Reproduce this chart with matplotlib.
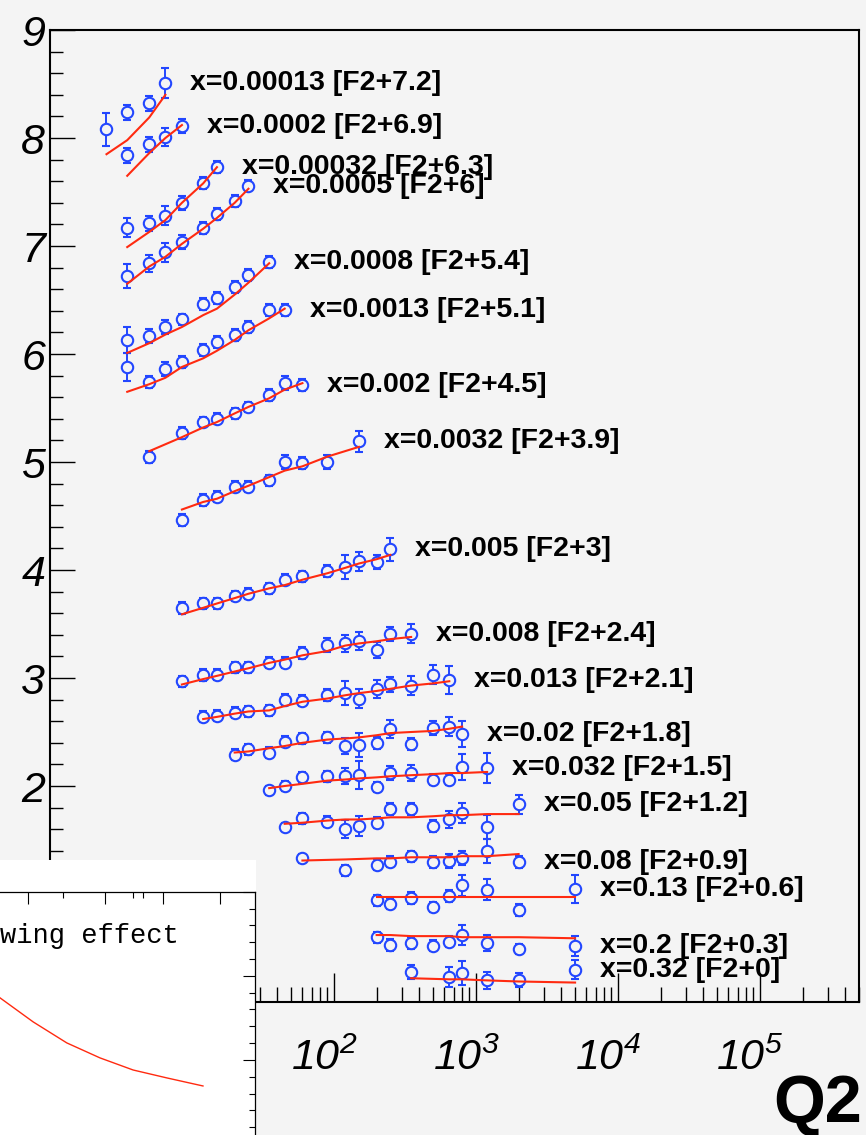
import matplotlib
matplotlib.use('Agg')
import matplotlib.pyplot as plt
from matplotlib.ticker import MultipleLocator, LogLocator, NullFormatter, FixedLocator
from matplotlib.patches import Rectangle
import matplotlib.transforms as mtrans
import numpy as np

plt.rcParams['font.family'] = ['Liberation Sans', 'DejaVu Sans']
plt.rcParams['mathtext.fontset'] = 'custom'
plt.rcParams['mathtext.rm'] = 'Liberation Sans:italic'
plt.rcParams['mathtext.it'] = 'Liberation Sans:italic'

# ---------------- data ----------------
x_bins = ['0.00013', '0.0002', '0.00032', '0.0005', '0.0008', '0.0013', '0.002', '0.0032',
          '0.005', '0.008', '0.013', '0.02', '0.032', '0.05', '0.08', '0.13', '0.2', '0.32']
offsets = [7.2, 6.9, 6.3, 6.0, 5.4, 5.1, 4.5, 3.9, 3.0, 2.4, 2.1, 1.8, 1.5, 1.2, 0.9, 0.6, 0.3, 0.0]

q2_s1 = [2.5, 3.5, 5, 6.5]
f2_s1 = [0.88, 1.04, 1.12, 1.31]
err_s1 = [0.15, 0.07, 0.07, 0.14]
fit_s1 = [0.65, 0.78, 0.99, 1.20]

q2_s2 = [3.5, 5, 6.5, 8.5]
f2_s2 = [0.94, 1.04, 1.11, 1.21]
err_s2 = [0.07, 0.07, 0.08, 0.065]
fit_s2 = [0.75, 0.96, 1.10, 1.22]

q2_s3 = [3.5, 5, 6.5, 8.5, 12, 15]
f2_s3 = [0.87, 0.91, 0.98, 1.10, 1.28, 1.43]
err_s3 = [0.09, 0.07, 0.09, 0.065, 0.055, 0.055]
fit_s3 = [0.69, 0.83, 0.94, 1.10, 1.28, 1.43]

q2_s4 = [3.5, 5, 6.5, 8.5, 12, 15, 20, 25]
f2_s4 = [0.72, 0.84, 0.94, 1.04, 1.17, 1.30, 1.42, 1.56]
err_s4 = [0.11, 0.08, 0.09, 0.065, 0.055, 0.055, 0.055, 0.055]
fit_s4 = [0.65, 0.81, 0.90, 1.02, 1.16, 1.26, 1.40, 1.53]

q2_s5 = [3.5, 5, 6.5, 8.5, 12, 15, 20, 25, 35]
f2_s5 = [0.73, 0.77, 0.85, 0.92, 1.06, 1.12, 1.22, 1.33, 1.45]
err_s5 = [0.12, 0.065, 0.065, 0.055, 0.055, 0.055, 0.055, 0.055, 0.055]
fit_s5 = [0.61, 0.70, 0.78, 0.85, 0.96, 1.02, 1.15, 1.26, 1.44]

q2_s6 = [3.5, 5, 6.5, 8.5, 12, 15, 20, 25, 35, 45]
f2_s6 = [0.78, 0.64, 0.76, 0.83, 0.94, 1.01, 1.08, 1.15, 1.31, 1.31]
err_s6 = [0.13, 0.055, 0.065, 0.055, 0.055, 0.055, 0.055, 0.055, 0.055, 0.055]
fit_s6 = [0.55, 0.62, 0.68, 0.78, 0.86, 0.93, 1.03, 1.12, 1.23, 1.32]

q2_s7 = [5, 8.5, 12, 15, 20, 25, 35, 45, 60]
f2_s7 = [0.55, 0.77, 0.87, 0.90, 0.95, 1.01, 1.12, 1.23, 1.21]
err_s7 = [0.055, 0.055, 0.05, 0.05, 0.05, 0.05, 0.055, 0.065, 0.055]
fit_s7 = [0.60, 0.73, 0.82, 0.87, 0.95, 1.01, 1.09, 1.17, 1.23]

q2_s8 = [8.5, 12, 15, 20, 25, 35, 45, 60, 90, 150]
f2_s8 = [0.56, 0.75, 0.78, 0.87, 0.87, 0.93, 1.10, 1.09, 1.10, 1.29]
err_s8 = [0.055, 0.055, 0.05, 0.05, 0.05, 0.05, 0.065, 0.055, 0.065, 0.10]
fit_s8 = [0.66, 0.73, 0.76, 0.83, 0.88, 0.96, 1.02, 1.06, 1.15, 1.24]

q2_s9 = [8.5, 12, 15, 20, 25, 35, 45, 60, 90, 120, 150, 200, 250]
f2_s9 = [0.65, 0.69, 0.69, 0.76, 0.78, 0.83, 0.91, 0.94, 0.99, 1.03, 1.08, 1.07, 1.19]
err_s9 = [0.055, 0.055, 0.05, 0.05, 0.05, 0.05, 0.05, 0.05, 0.055, 0.11, 0.085, 0.065, 0.11]
fit_s9 = [0.59, 0.65, 0.69, 0.74, 0.78, 0.83, 0.86, 0.91, 0.97, 1.02, 1.06, 1.10, 1.14]

q2_s10 = [8.5, 12, 15, 20, 25, 35, 45, 60, 90, 120, 150, 200, 250, 350]
f2_s10 = [0.57, 0.63, 0.63, 0.70, 0.70, 0.74, 0.74, 0.83, 0.91, 0.92, 0.94, 0.86, 1.01, 1.01]
err_s10 = [0.05, 0.055, 0.05, 0.05, 0.05, 0.05, 0.05, 0.055, 0.065, 0.075, 0.085, 0.075, 0.065, 0.09]
fit_s10 = [0.54, 0.59, 0.62, 0.66, 0.69, 0.74, 0.77, 0.81, 0.85, 0.90, 0.92, 0.94, 0.96, 0.98]

q2_s11 = [12, 15, 20, 25, 35, 45, 60, 90, 120, 150, 200, 250, 350, 500, 650]
f2_s11 = [0.54, 0.55, 0.58, 0.59, 0.60, 0.70, 0.69, 0.74, 0.76, 0.71, 0.80, 0.84, 0.83, 0.93, 0.88]
err_s11 = [0.05, 0.05, 0.05, 0.05, 0.05, 0.05, 0.05, 0.055, 0.11, 0.09, 0.085, 0.065, 0.085, 0.09, 0.13]
fit_s11 = [0.52, 0.54, 0.57, 0.59, 0.60, 0.64, 0.68, 0.71, 0.74, 0.76, 0.78, 0.80, 0.83, 0.85, 0.87]

q2_s12 = [20, 25, 35, 45, 60, 90, 120, 150, 200, 250, 350, 500, 650, 800]
f2_s12 = [0.49, 0.54, 0.51, 0.61, 0.64, 0.65, 0.57, 0.58, 0.60, 0.73, 0.59, 0.74, 0.75, 0.68]
err_s12 = [0.05, 0.05, 0.05, 0.05, 0.05, 0.05, 0.075, 0.11, 0.055, 0.085, 0.055, 0.065, 0.09, 0.12]
fit_s12 = [0.51, 0.52, 0.55, 0.57, 0.60, 0.63, 0.64, 0.65, 0.67, 0.69, 0.70, 0.71, 0.73, 0.75]

q2_s13 = [35, 45, 60, 90, 120, 150, 200, 250, 350, 500, 650, 800, 1200]
f2_s13 = [0.46, 0.50, 0.58, 0.59, 0.59, 0.60, 0.49, 0.62, 0.62, 0.56, 0.56, 0.68, 0.67]
err_s13 = [0.04, 0.05, 0.05, 0.05, 0.075, 0.13, 0.05, 0.065, 0.075, 0.055, 0.055, 0.12, 0.14]
fit_s13 = [0.48, 0.50, 0.52, 0.55, 0.56, 0.57, 0.58, 0.59, 0.60, 0.61, 0.62, 0.62, 0.63]

q2_s14 = [45, 60, 90, 120, 150, 200, 250, 350, 500, 650, 800, 1200, 2000]
f2_s14 = [0.42, 0.50, 0.47, 0.40, 0.43, 0.46, 0.59, 0.59, 0.43, 0.49, 0.55, 0.42, 0.63]
err_s14 = [0.04, 0.05, 0.05, 0.085, 0.09, 0.05, 0.055, 0.055, 0.055, 0.075, 0.09, 0.11, 0.085]
fit_s14 = [0.45, 0.46, 0.48, 0.49, 0.49, 0.50, 0.51, 0.51, 0.52, 0.53, 0.53, 0.54, 0.54]

q2_s15 = [60, 120, 200, 250, 350, 500, 650, 800, 1200, 2000]
f2_s15 = [0.43, 0.32, 0.37, 0.40, 0.45, 0.40, 0.41, 0.43, 0.50, 0.40]
err_s15 = [0.04, 0.05, 0.05, 0.05, 0.05, 0.055, 0.065, 0.065, 0.11, 0.055]
fit_s15 = [0.41, 0.42, 0.43, 0.43, 0.44, 0.44, 0.44, 0.45, 0.45, 0.47]

q2_s16 = [200, 250, 350, 500, 650, 800, 1200, 2000, 5000]
f2_s16 = [0.34, 0.31, 0.36, 0.28, 0.38, 0.48, 0.44, 0.25, 0.45]
err_s16 = [0.05, 0.05, 0.055, 0.05, 0.055, 0.10, 0.10, 0.055, 0.13]
fit_s16 = [0.37, 0.37, 0.37, 0.37, 0.37, 0.37, 0.37, 0.37, 0.37]

q2_s17 = [200, 250, 350, 500, 650, 800, 1200, 2000, 5000]
f2_s17 = [0.30, 0.23, 0.25, 0.22, 0.26, 0.32, 0.25, 0.19, 0.22]
err_s17 = [0.05, 0.055, 0.055, 0.05, 0.05, 0.09, 0.075, 0.05, 0.09]
fit_s17 = [0.32, 0.32, 0.31, 0.31, 0.31, 0.30, 0.30, 0.30, 0.29]

q2_s18 = [350, 650, 800, 1200, 2000, 5000]
f2_s18 = [0.28, 0.23, 0.27, 0.20, 0.20, 0.30]
err_s18 = [0.065, 0.09, 0.11, 0.075, 0.065, 0.09]
fit_s18 = [0.22, 0.21, 0.21, 0.20, 0.19, 0.18]

series = [
    (q2_s1, f2_s1, err_s1, fit_s1), (q2_s2, f2_s2, err_s2, fit_s2),
    (q2_s3, f2_s3, err_s3, fit_s3), (q2_s4, f2_s4, err_s4, fit_s4),
    (q2_s5, f2_s5, err_s5, fit_s5), (q2_s6, f2_s6, err_s6, fit_s6),
    (q2_s7, f2_s7, err_s7, fit_s7), (q2_s8, f2_s8, err_s8, fit_s8),
    (q2_s9, f2_s9, err_s9, fit_s9), (q2_s10, f2_s10, err_s10, fit_s10),
    (q2_s11, f2_s11, err_s11, fit_s11), (q2_s12, f2_s12, err_s12, fit_s12),
    (q2_s13, f2_s13, err_s13, fit_s13), (q2_s14, f2_s14, err_s14, fit_s14),
    (q2_s15, f2_s15, err_s15, fit_s15), (q2_s16, f2_s16, err_s16, fit_s16),
    (q2_s17, f2_s17, err_s17, fit_s17), (q2_s18, f2_s18, err_s18, fit_s18),
]

y_ticks = [0, 1, 2, 3, 4, 5, 6, 7, 8, 9]
x_ticks = [1, 10, 100, 1000, 10000, 100000]
x_tick_labels = [r'$1$', r'$10$', r'$10^{2}$', r'$10^{3}$', r'$10^{4}$', r'$10^{5}$']

# inset ("... wing effect") curve
inset_x = [0.500, 0.565, 0.631, 0.696, 0.761, 0.827, 0.898]
inset_y = [0.869, 0.726, 0.601, 0.512, 0.440, 0.393, 0.345]

# ---------------- figure ----------------
W, H = 866, 1135
BG = '#f4f4f4'
BLUE = '#2246ff'
RED = '#ff2a10'

fig = plt.figure(figsize=(W / 100, H / 100), dpi=100, facecolor=BG)
ax = fig.add_axes([50 / W, 1 - 1002 / H, 809 / W, 972 / H])
ax.set_facecolor(BG)
ax.set_xscale('log')
ax.set_xlim(1, 5e5)
ax.set_ylim(0, 9)

for (q2, f2, err, fit), off, xb in zip(series, offsets, x_bins):
    q2 = np.asarray(q2, float)
    yv = np.asarray(f2) + off
    ax.errorbar(q2, yv, yerr=err, fmt='o', ms=8.2, mfc=BG, mec=BLUE, mew=1.5,
                ecolor=BLUE, elinewidth=1.4, capsize=2.9, capthick=1.4, zorder=3)
    ax.plot(q2, np.asarray(fit) + off, color=RED, lw=1.5, zorder=4)
    ax.text(q2[-1] * 1.5, yv[-1], f'x={xb} [F2+{off:g}]', fontsize=20.5,
            fontweight='bold', ha='left', va='center', color='black', zorder=5)

# axes styling
for s in ax.spines.values():
    s.set_linewidth(1.5)
ax.set_yticks(y_ticks)
ax.set_yticklabels([str(v) for v in y_ticks], fontsize=31, fontstyle='italic')
ax.yaxis.set_minor_locator(MultipleLocator(0.2))
ax.set_xticks(x_ticks)
ax.set_xticklabels(x_tick_labels, fontsize=31)
ax.xaxis.set_minor_locator(LogLocator(base=10, subs=np.arange(2, 10), numticks=20))
ax.xaxis.set_minor_formatter(NullFormatter())
ax.tick_params(which='both', direction='in', top=False, right=False, color='black')
ax.tick_params(axis='y', which='major', length=18, width=1.0, pad=3.5)
ax.tick_params(axis='y', which='minor', length=9.5, width=1.0)
ax.tick_params(axis='x', which='major', length=21, width=1.0, pad=26)
ax.tick_params(axis='x', which='minor', length=11, width=1.0)
shift = mtrans.ScaledTranslation(-10 / 100, 0, fig.dpi_scale_trans)
for t in ax.xaxis.get_major_ticks():
    t.label1.set_transform(t.label1.get_transform() + shift)

# axis title
fig.text(862 / W, 1 - 1122 / H, 'Q2', ha='right', va='baseline', fontsize=48,
         fontweight='bold', zorder=12)

# ---------------- inset (partially visible) ----------------
fig.add_artist(Rectangle((0, 0), 256 / W, 275 / H, transform=fig.transFigure,
                         facecolor='white', edgecolor='none', zorder=10))
iax = fig.add_axes([-255 / W, 1 - 1144 / H, 510 / W, (1144 - 891.7) / H], zorder=11)
iax.set_facecolor('white')
iax.set_xlim(0, 1)
iax.set_ylim(0, 1.5)
for k in ('left', 'bottom'):
    iax.spines[k].set_visible(False)
for k in ('top', 'right'):
    iax.spines[k].set_linewidth(0.9)
iax.xaxis.tick_top()
iax.yaxis.tick_right()
iax.xaxis.set_major_locator(FixedLocator([0.5555, 0.7059, 0.82, 0.931]))
iax.xaxis.set_minor_locator(FixedLocator([0.624, 0.7614, 0.781]))
iax.yaxis.set_major_locator(MultipleLocator(0.5))
iax.yaxis.set_minor_locator(MultipleLocator(0.1))
iax.tick_params(which='both', direction='in', labeltop=False, labelright=False,
                labelbottom=False, labelleft=False, width=0.8)
iax.tick_params(which='major', length=8.5)
iax.tick_params(which='minor', length=4.5)
iax.plot(inset_x, inset_y, color=RED, lw=1.0)
iax.text(0.5, 1.196, 'wing effect', family='Liberation Mono', fontsize=19.5,
         ha='left', va='baseline', color='black')

fig.savefig('out.png', dpi=100, facecolor=BG)
